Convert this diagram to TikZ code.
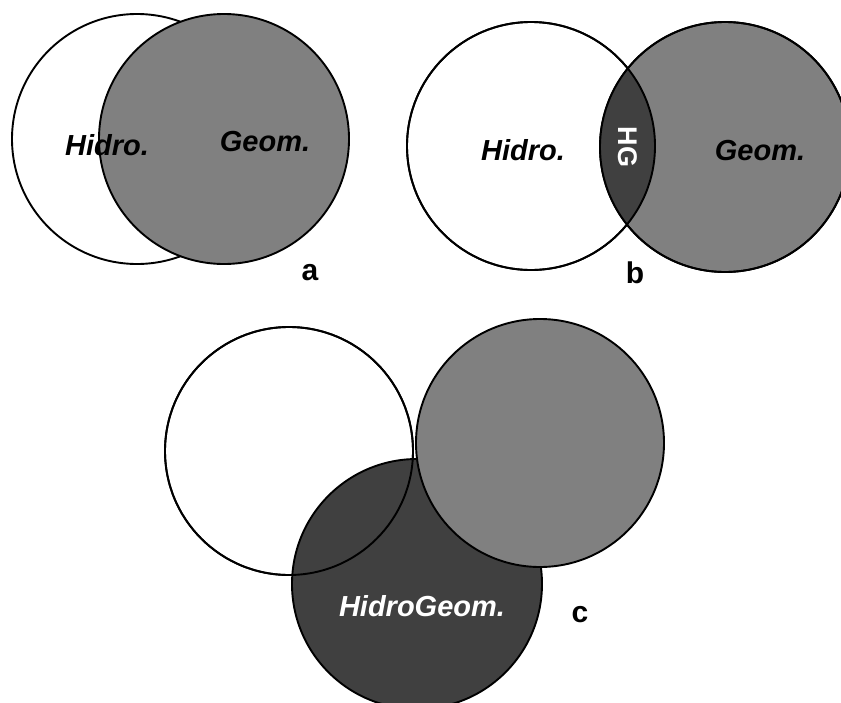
\documentclass[tikz,border=0pt]{standalone}
\usepackage{fontspec}
\setmainfont{Liberation Sans}
\definecolor{midgrey}{gray}{0.5}
\definecolor{darkgrey}{gray}{0.25}
\tikzset{
  ring/.style={draw=black,line width=1.9pt},
  setlabel/.style={font=\fontsize{29}{29}\selectfont\bfseries\itshape},
  panellabel/.style={font=\fontsize{30}{30}\selectfont\bfseries},
}
\begin{document}
\begin{tikzpicture}[x=1pt,y=-1pt]
    \useasboundingbox (0,0) rectangle (841,702);
    % a
    \draw[ring,fill=white] (137,139) circle (125pt);
    \draw[ring,fill=midgrey] (224,139) circle (125pt);
    \node[setlabel] (hidroA) at (107,145) {Hidro.};
    \node[setlabel] (geomA) at (265,142) {Geom.};
    \node[panellabel] (labelA) at (310,273) {a};
    % b
    \draw[ring,fill=white] (531,146) circle (124pt);
    \draw[ring,fill=midgrey] (725,147) circle (125pt);
    \begin{scope}
        \clip (531,146) circle (124pt);
        \fill[darkgrey] (725,147) circle (125pt);
    \end{scope}
    \draw[ring] (531,146) circle (124pt) (725,147) circle (125pt);
    \node[setlabel] (hidroB) at (523,150) {Hidro.};
    \node[setlabel] (geomB) at (760,151) {Geom.};
    \node[panellabel,text=white,rotate=-90,font=\fontsize{27}{27}\selectfont\bfseries] (hgB) at (628,147) {HG};
    \node[panellabel] (labelB) at (635,273) {b};
    % c
    \draw[ring,fill=white] (289,451) circle (124pt);
    \draw[ring,fill=darkgrey] (417,584) circle (125pt);
    \draw[ring] (289,451) circle (124pt);
    \draw[ring,fill=midgrey] (540,443) circle (124pt);
    \node[setlabel,text=white] (hidrogeomC) at (422,606) {HidroGeom.};
    \node[panellabel] (labelC) at (580,615) {c};
\end{tikzpicture}
\end{document}
